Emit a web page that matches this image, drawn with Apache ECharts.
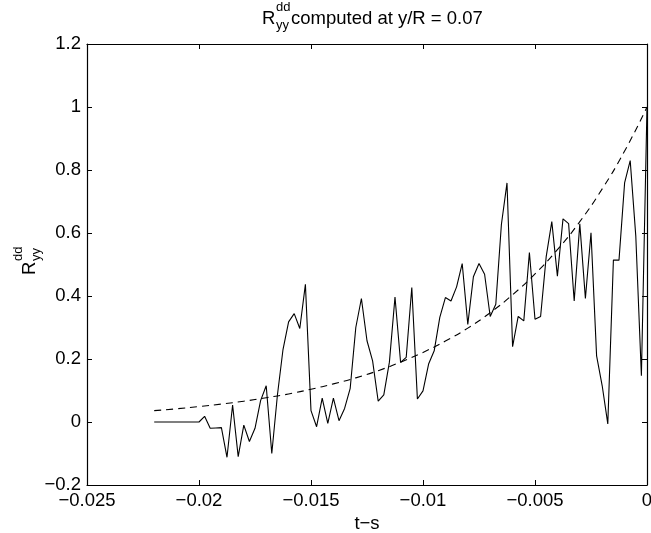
<!DOCTYPE html>
<html><head><meta charset="utf-8">
<script src="https://cdn.jsdelivr.net/npm/echarts@6.0.0/dist/echarts.min.js"></script>
<style>html,body{margin:0;padding:0;background:#fff}#c{width:651px;height:533px}</style>
</head><body><div id="c"></div>
<script>
// sampling grid of the measured correlation (t-s)
const tStart = -0.022;
const tStep = 0.00025;
// measured R_yy^dd values, one per grid point
const measured = [
  0, 0, 0, 0, 0, 0, 0, 0, 0,
  0.018, -0.02, -0.019, -0.018, -0.112, 0.054, -0.11, -0.01, -0.062, -0.02,
  0.068, 0.115, -0.10, 0.085, 0.23, 0.318, 0.344, 0.297, 0.437, 0.036,
  -0.015, 0.076, -0.004, 0.076, 0.004, 0.043, 0.107, 0.30, 0.392, 0.258,
  0.194, 0.066, 0.086, 0.19, 0.397, 0.189, 0.205, 0.427, 0.073, 0.099,
  0.184, 0.226, 0.332, 0.395, 0.384, 0.429, 0.503, 0.31, 0.461, 0.503,
  0.469, 0.335, 0.374, 0.627, 0.759, 0.239, 0.335, 0.321, 0.538, 0.326,
  0.335, 0.525, 0.636, 0.463, 0.645, 0.63, 0.384, 0.629, 0.392, 0.601,
  0.21, 0.115, -0.006, 0.514, 0.514, 0.759, 0.83, 0.59, 0.147, 1.0
];
// dashed reference curve
const fitT = [-0.022,-0.021,-0.020,-0.019,-0.018,-0.017,-0.016,-0.015,-0.014,-0.013,-0.012,-0.011,-0.010,-0.009,-0.008,-0.007,-0.006,-0.005,-0.004,-0.003,-0.002,-0.001,0];
const fitV = [0.036,0.042,0.049,0.057,0.066,0.077,0.089,0.104,0.121,0.140,0.163,0.190,0.221,0.257,0.298,0.347,0.404,0.470,0.547,0.636,0.740,0.860,1.0];
const xTickLabels = ['−0.025','−0.02','−0.015','−0.01','−0.005','0'];
const yTickLabels = ['−0.2','0','0.2','0.4','0.6','0.8','1','1.2'];

const measuredData = measured.map((v, k) => [tStart + k * tStep, v]);
const fitData = fitT.map((t, i) => [t, fitV[i]]);

const FONT = 'Liberation Sans, Arial, Helvetica, sans-serif';
const FS = 18.5, FS_SMALL = 13;
const fmtX = v => xTickLabels[Math.round((v + 0.025) / 0.005)] || '';
const fmtY = v => yTickLabels[Math.round((v + 0.2) / 0.2)] || '';

const axisLine = {show: true, onZero: false, lineStyle: {color: '#000', width: 1.2}};
const tick = {show: true, inside: true, length: 5, lineStyle: {color: '#000', width: 1}};
const lab = {color: '#000', fontSize: FS, fontFamily: FONT, showMinLabel: true, showMaxLabel: true};
const txt = (text, x, y, fs) => ({type: 'text', x, y, style: {text, fontSize: fs, fontFamily: FONT, fill: '#000'}});

const chart = echarts.init(document.getElementById('c'), null, {renderer: 'canvas'});
chart.setOption({
  animation: false,
  backgroundColor: '#fff',
  grid: {left: 87, right: 4, top: 44, bottom: 48, containLabel: false, outerBoundsMode: 'none'},
  xAxis: [
    {type: 'value', min: -0.025, max: 0, interval: 0.005, position: 'bottom',
     axisLine, axisTick: tick, splitLine: {show: false},
     axisLabel: Object.assign({}, lab, {margin: 6, formatter: fmtX}),
     name: 't−s', nameLocation: 'middle', nameGap: 27,
     nameTextStyle: {color: '#000', fontSize: FS, fontFamily: FONT}},
    {type: 'value', min: -0.025, max: 0, interval: 0.005, position: 'top',
     axisLine, axisTick: tick, splitLine: {show: false}, axisLabel: {show: false}}
  ],
  yAxis: [
    {type: 'value', min: -0.2, max: 1.2, interval: 0.2, position: 'left',
     axisLine, axisTick: tick, splitLine: {show: false},
     axisLabel: Object.assign({}, lab, {margin: 6, formatter: fmtY})},
    {type: 'value', min: -0.2, max: 1.2, interval: 0.2, position: 'right',
     axisLine, axisTick: tick, splitLine: {show: false}, axisLabel: {show: false}}
  ],
  series: [
    {type: 'line', data: measuredData, showSymbol: false, clip: true,
     lineStyle: {color: '#000', width: 1.1}, z: 3},
    {type: 'line', data: fitData, showSymbol: false, smooth: true, clip: true,
     lineStyle: {color: '#000', width: 1.1, type: [7, 5]}, z: 2}
  ],
  graphic: [
    {type: 'group', x: 262, y: 0, children: [
      txt('R', 0, 9, FS),
      txt('dd', 14, 1, FS_SMALL),
      txt('yy', 14, 19, FS_SMALL),
      txt('computed at y/R = 0.07', 29, 9, FS)
    ]},
    {type: 'group', x: 20, y: 275, rotation: Math.PI / 2, children: [
      txt('R', 0, 0, FS),
      txt('dd', 14, -8, FS_SMALL),
      txt('yy', 14, 10, FS_SMALL)
    ]}
  ]
});
</script>
</body></html>
